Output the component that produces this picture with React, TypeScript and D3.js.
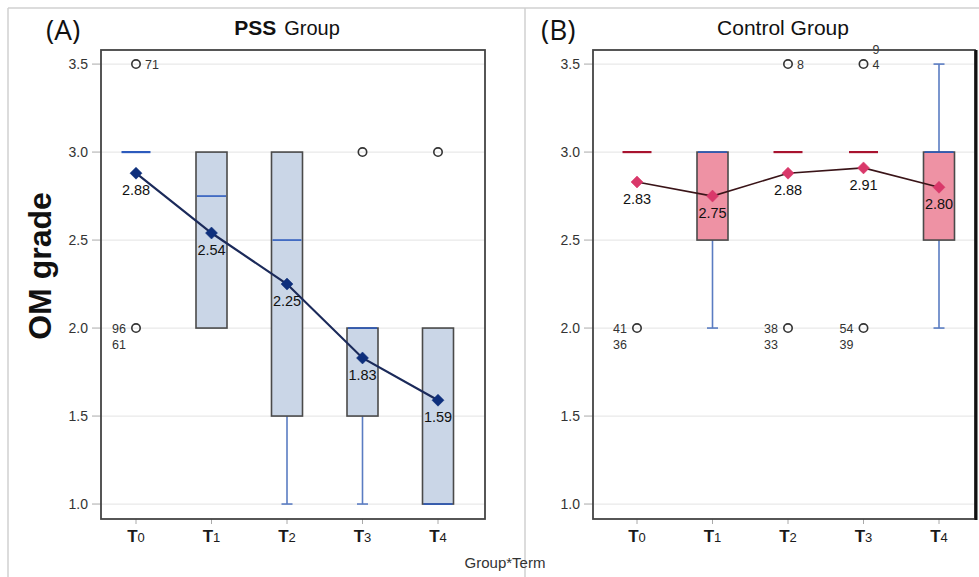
import React from 'react';
import * as d3 from 'd3';

// categories
const terms = ['T0', 'T1', 'T2', 'T3', 'T4'];
const yTicks = [1.0, 1.5, 2.0, 2.5, 3.0, 3.5];

// PSS group box statistics
const pssLow = [3.0, 2.0, 1.0, 1.0, 1.0];
const pssQ1 = [3.0, 2.0, 1.5, 1.5, 1.0];
const pssMedian = [3.0, 2.75, 2.5, 2.0, 1.0];
const pssQ3 = [3.0, 3.0, 3.0, 2.0, 2.0];
const pssHigh = [3.0, 3.0, 3.0, 2.0, 2.0];
const pssMeans = [2.88, 2.54, 2.25, 1.83, 1.59];
const pssOutTerm = ['T0', 'T0', 'T3', 'T4'];
const pssOutValue = [3.5, 2.0, 3.0, 3.0];
const pssOutIds = [['71'], ['96', '61'], [], []];

// Control group box statistics
const ctlLow = [3.0, 2.0, 3.0, 3.0, 2.0];
const ctlQ1 = [3.0, 2.5, 3.0, 3.0, 2.5];
const ctlMedian = [3.0, 3.0, 3.0, 3.0, 3.0];
const ctlQ3 = [3.0, 3.0, 3.0, 3.0, 3.0];
const ctlHigh = [3.0, 3.0, 3.0, 3.0, 3.5];
const ctlMeans = [2.83, 2.75, 2.88, 2.91, 2.8];
const ctlOutTerm = ['T0', 'T2', 'T2', 'T3', 'T3'];
const ctlOutValue = [2.0, 3.5, 2.0, 3.5, 2.0];
const ctlOutIds = [['41', '36'], ['8'], ['38', '33'], ['4', '9'], ['54', '39']];

const FONT = 'Liberation Sans, Arial, sans-serif';

const y = d3.scaleLinear().domain([0.915, 3.58]).range([519, 50]);

const diamond = d3.symbol(d3.symbolSquare, 72)();

type PanelProps = {
  left: number;
  right: number;
  first: number;
  last: number;
  low: number[];
  q1: number[];
  median: number[];
  q3: number[];
  high: number[];
  means: number[];
  outTerm: string[];
  outValue: number[];
  outIds: string[][];
  fill: string;
  flatColor: string;
  meanFill: string;
  meanLine: string;
  meanWidth: number;
};

function Panel(p: PanelProps) {
  const x = d3.scalePoint<string>().domain(terms).range([p.first, p.last]);
  const top = y.range()[1];
  const bottom = y.range()[0];
  const boxW = 31;
  const capW = 11;
  const line = d3
    .line<number>()
    .x((_, i) => x(terms[i]) as number)
    .y(d => y(d));

  return (
    <g>
      {/* grid */}
      {yTicks.map(t => (
        <line key={'g' + t} x1={p.left} x2={p.right} y1={y(t)} y2={y(t)} stroke="#e9e9e9" strokeWidth={1.2} />
      ))}
      {/* y axis ticks */}
      {yTicks.map(t => (
        <g key={'t' + t}>
          <line x1={p.left - 9} x2={p.left} y1={y(t)} y2={y(t)} stroke="#aaa" strokeWidth={1} />
          <text x={p.left - 13} y={y(t) + 5} textAnchor="end" fontSize={14} fill="#333" fontFamily={FONT}>
            {d3.format('.1f')(t)}
          </text>
        </g>
      ))}
      {/* x axis ticks */}
      {terms.map(t => (
        <g key={'x' + t}>
          <line x1={x(t)} x2={x(t)} y1={bottom} y2={bottom + 5} stroke="#aaa" strokeWidth={1} />
          <text x={x(t)} y={bottom + 23} textAnchor="middle" fill="#1a1a1a" fontFamily={FONT}>
            <tspan fontSize={17} fontWeight="bold">T</tspan>
            <tspan fontSize={13}>{t.slice(1)}</tspan>
          </text>
        </g>
      ))}
      {/* boxes */}
      {terms.map((t, i) => {
        const cx = x(t) as number;
        const flat = p.q1[i] === p.q3[i];
        return (
          <g key={'b' + t}>
            {p.low[i] < p.q1[i] && (
              <g stroke="#5a7cc2" strokeWidth={1.6}>
                <line x1={cx} x2={cx} y1={y(p.q1[i])} y2={y(p.low[i])} />
                <line x1={cx - capW / 2} x2={cx + capW / 2} y1={y(p.low[i])} y2={y(p.low[i])} />
              </g>
            )}
            {p.high[i] > p.q3[i] && (
              <g stroke="#5a7cc2" strokeWidth={1.6}>
                <line x1={cx} x2={cx} y1={y(p.q3[i])} y2={y(p.high[i])} />
                <line x1={cx - capW / 2} x2={cx + capW / 2} y1={y(p.high[i])} y2={y(p.high[i])} />
              </g>
            )}
            {!flat && (
              <rect
                x={cx - boxW / 2}
                y={y(p.q3[i])}
                width={boxW}
                height={y(p.q1[i]) - y(p.q3[i])}
                fill={p.fill}
                stroke="#4a4a4a"
                strokeWidth={1.6}
              />
            )}
            <line
              x1={cx - boxW / 2 + 1}
              x2={cx + boxW / 2 - 1}
              y1={y(p.median[i])}
              y2={y(p.median[i])}
              stroke={flat ? p.flatColor : '#2d5bbd'}
              strokeWidth={flat ? 2.2 : 1.6}
            />
          </g>
        );
      })}
      {/* outliers */}
      {p.outValue.map((v, i) => {
        const cx = x(p.outTerm[i]) as number;
        const cy = y(v);
        const ti = terms.indexOf(p.outTerm[i]);
        const above = v > p.q3[ti];
        return (
          <g key={'o' + i}>
            <circle cx={cx} cy={cy} r={4.2} fill="none" stroke="#333" strokeWidth={1.6} />
            {p.outIds[i].map((id, j) => (
              <text
                key={id}
                x={above ? cx + 9 : cx - 10}
                y={above ? cy + 4.5 - j * 15 : cy + 4.5 + j * 16}
                textAnchor={above ? 'start' : 'end'}
                fontSize={12.5}
                fill="#333"
                fontFamily={FONT}
              >
                {id}
              </text>
            ))}
          </g>
        );
      })}
      {/* means */}
      <path d={line(p.means) as string} fill="none" stroke={p.meanLine} strokeWidth={p.meanWidth} />
      {p.means.map((m, i) => (
        <g key={'m' + i}>
          <path
            d={diamond as string}
            transform={`translate(${x(terms[i])},${y(m)}) rotate(45)`}
            fill={p.meanFill}
            stroke={p.meanFill}
            strokeWidth={0.5}
          />
          <text
            x={x(terms[i])}
            y={y(m) + 22}
            textAnchor="middle"
            fontSize={14.5}
            fill="#111"
            fontFamily={FONT}
          >
            {d3.format('.2f')(m)}
          </text>
        </g>
      ))}
      {/* frame */}
      <rect x={p.left} y={top} width={p.right - p.left} height={bottom - top} fill="none" stroke="#444" strokeWidth={1.8} />
    </g>
  );
}

export default function App() {
  return (
    <svg
      width={979}
      height={577}
      style={{ position: 'absolute', left: 0, top: 0, background: '#fff' }}
    >
      <rect width={979} height={577} fill="#fff" />
      {/* outer panel borders */}
      <line x1={8} x2={979} y1={8} y2={8} stroke="#d0d0d0" strokeWidth={1.5} />
      <line x1={8} x2={8} y1={8} y2={577} stroke="#d0d0d0" strokeWidth={1.5} />
      <line x1={525} x2={525} y1={8} y2={577} stroke="#d0d0d0" strokeWidth={1.5} />

      <Panel
        left={101}
        right={485}
        first={136}
        last={438}
        low={pssLow}
        q1={pssQ1}
        median={pssMedian}
        q3={pssQ3}
        high={pssHigh}
        means={pssMeans}
        outTerm={pssOutTerm}
        outValue={pssOutValue}
        outIds={pssOutIds}
        fill="#cad6e7"
        flatColor="#2d5bbd"
        meanFill="#0e2f7c"
        meanLine="#1b2a5a"
        meanWidth={2.2}
      />
      <Panel
        left={593}
        right={975}
        first={637}
        last={939}
        low={ctlLow}
        q1={ctlQ1}
        median={ctlMedian}
        q3={ctlQ3}
        high={ctlHigh}
        means={ctlMeans}
        outTerm={ctlOutTerm}
        outValue={ctlOutValue}
        outIds={ctlOutIds}
        fill="#ee92a4"
        flatColor="#a8132f"
        meanFill="#d9386a"
        meanLine="#3a1418"
        meanWidth={1.6}
      />
      <line x1={976} x2={976} y1={50} y2={520} stroke="#111" strokeWidth={3} />

      {/* panel labels and titles */}
      <text x={46} y={40} fontSize={28} fill="#111" fontFamily="Open Sans, sans-serif">(A)</text>
      <text x={541} y={40} fontSize={28} fill="#111" fontFamily="Open Sans, sans-serif">(B)</text>
      <text x={287} y={35} textAnchor="middle" fill="#111" fontFamily={FONT}>
        <tspan fontSize={21} fontWeight="bold">PSS</tspan>
        <tspan fontSize={20} dx={8}>Group</tspan>
      </text>
      <text x={783} y={35} textAnchor="middle" fontSize={21} fill="#111" fontFamily={FONT}>
        Control Group
      </text>

      {/* axis titles */}
      <text
        transform="translate(51,266) rotate(-90)"
        textAnchor="middle"
        fontSize={32}
        fontWeight="bold"
        fill="#111"
        fontFamily={FONT}
      >
        OM grade
      </text>
      <text x={505} y={568} textAnchor="middle" fontSize={15} fill="#333" fontFamily={FONT}>
        Group*Term
      </text>
    </svg>
  );
}
